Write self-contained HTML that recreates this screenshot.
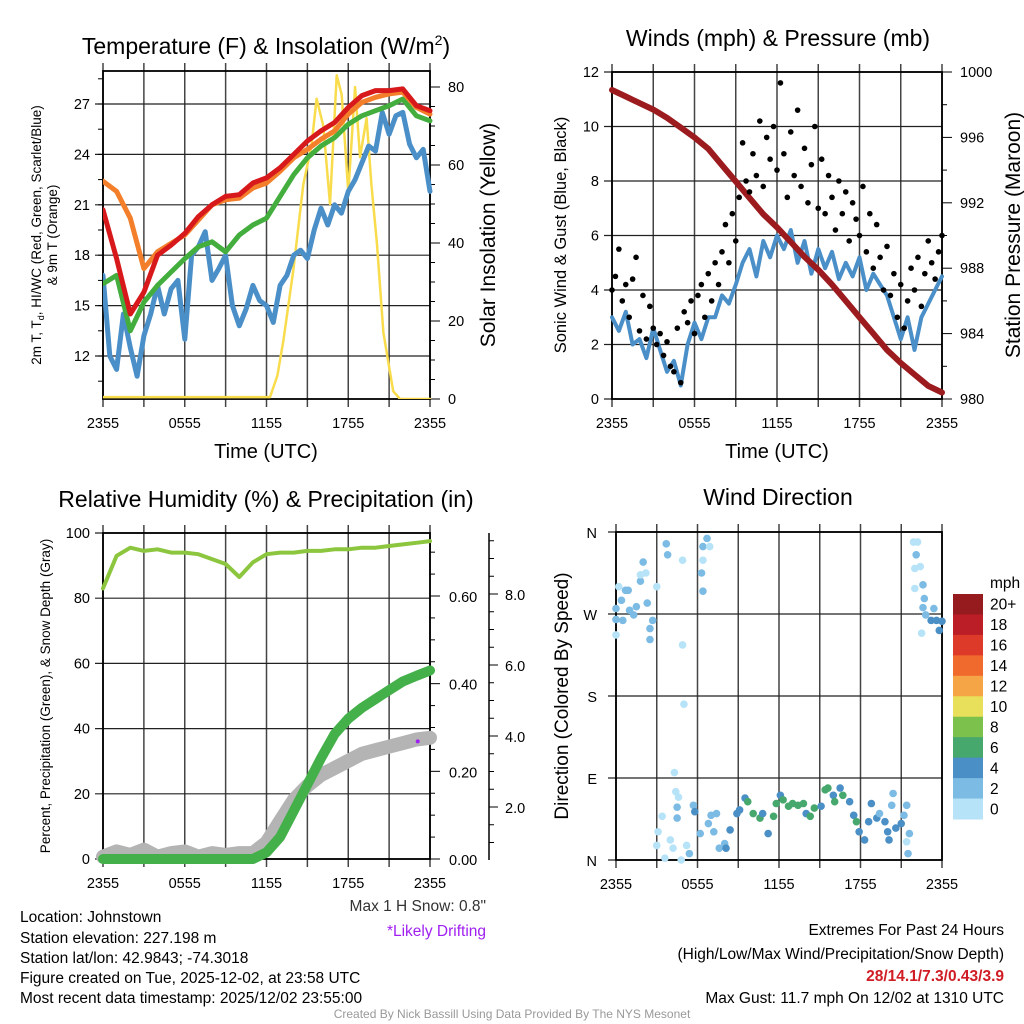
<!DOCTYPE html>
<html><head><meta charset="utf-8">
<style>
html,body{margin:0;padding:0;background:#fff;}
svg{display:block;font-family:"Liberation Sans",Arial,sans-serif;}
</style></head>
<body>
<svg id="chart" width="1024" height="1024" viewBox="0 0 1024 1024" xmlns="http://www.w3.org/2000/svg">
<rect width="1024" height="1024" fill="#fff"/>
<g id="layer"></g>
<text x="266" y="54" font-size="23" text-anchor="middle">Temperature (F) &amp; Insolation (W/m<tspan font-size="14" dy="-9">2</tspan><tspan dy="9">)</tspan></text>
<text x="778" y="46" font-size="23" text-anchor="middle">Winds (mph) &amp; Pressure (mb)</text>
<text x="266" y="507" font-size="23" text-anchor="middle">Relative Humidity (%) &amp; Precipitation (in)</text>
<text x="778" y="505" font-size="23" text-anchor="middle">Wind Direction</text>
<text transform="translate(41,235) rotate(-90)" font-size="13.5" text-anchor="middle">2m T, T<tspan font-size="9" dy="3">d</tspan><tspan dy="-3">, HI/WC (Red, Green, Scarlet/Blue)</tspan></text>
<text transform="translate(57,235) rotate(-90)" font-size="13.5" text-anchor="middle">&amp; 9m T (Orange)</text>
<text transform="translate(495,235) rotate(-90)" font-size="21" text-anchor="middle">Solar Insolation (Yellow)</text>
<text transform="translate(566,235) rotate(-90)" font-size="16.5" text-anchor="middle">Sonic Wind &amp; Gust (Blue, Black)</text>
<text transform="translate(1020,235) rotate(-90)" font-size="21" text-anchor="middle">Station Pressure (Maroon)</text>
<text transform="translate(50,696) rotate(-90)" font-size="13.5" text-anchor="middle">Percent, Precipitation (Green), &amp; Snow Depth (Gray)</text>
<text transform="translate(568,696) rotate(-90)" font-size="19" text-anchor="middle">Direction (Colored By Speed)</text>
<text x="266" y="458" font-size="20" text-anchor="middle">Time (UTC)</text>
<text x="777" y="458" font-size="20" text-anchor="middle">Time (UTC)</text>
<text x="486" y="911" font-size="15.5" fill="#333" text-anchor="end">Max 1 H Snow: 0.8"</text>
<text x="486" y="936" font-size="15.5" fill="#a020f0" text-anchor="end">*Likely Drifting</text>
<g font-size="15.5">
<text x="20" y="922">Location: Johnstown</text>
<text x="20" y="943">Station elevation: 227.198 m</text>
<text x="20" y="963">Station lat/lon: 42.9843; -74.3018</text>
<text x="20" y="983">Figure created on Tue, 2025-12-02, at 23:58 UTC</text>
<text x="20" y="1003">Most recent data timestamp: 2025/12/02 23:55:00</text>
</g>
<g font-size="15.5" text-anchor="end">
<text x="1004" y="935">Extremes For Past 24 Hours</text>
<text x="1004" y="959">(High/Low/Max Wind/Precipitation/Snow Depth)</text>
<text x="1004" y="981" fill="#d01c24" font-weight="bold">28/14.1/7.3/0.43/3.9</text>
<text x="1004" y="1003">Max Gust: 11.7 mph On 12/02 at 1310 UTC</text>
</g>
<text x="512" y="1018" font-size="12" fill="#999" text-anchor="middle">Created By Nick Bassill Using Data Provided By The NYS Mesonet</text>
</svg>
<script>
// ---------- DATA ----------
const hourly = [0,1,2,3,4,5,6,7,8,9,10,11,12,13,14,15,16,17,18,19,20,21,22,23,24];
const halfHourly = [0,0.5,1,1.5,2,2.5,3,3.5,4,4.5,5,5.5,6,6.5,7,7.5,8,8.5,9,9.5,10,10.5,11,11.5,12,12.5,13,13.5,14,14.5,15,15.5,16,16.5,17,17.5,18,18.5,19,19.5,20,20.5,21,21.5,22,22.5,23,23.5,24];
const xTickLabels = ["2355","0555","1155","1755","2355"];
const xTickHours = [0,6,12,18,24];
const tempTicks = [12,15,18,21,24,27];
const solarTicks = [0,20,40,60,80];
const windTicks = [0,2,4,6,8,10,12];
const pressureTicks = [980,984,988,992,996,1000];
const pctTicks = [0,20,40,60,80,100];
const precipTicks = [0,0.2,0.4,0.6];
const precipTickLabels = ["0.00","0.20","0.40","0.60"];
const snowTicks = [2,4,6,8];
const snowTickLabels = ["2.0","4.0","6.0","8.0"];
const dirTicks = [0,90,180,270,360];
const dirTickLabels = ["N","E","S","W","N"];

const tempRed = [20.7,17.8,14.5,15.8,18,18.6,19.3,20.3,21,21.5,21.6,22.3,22.6,23.2,24,24.8,25.4,25.9,26.8,27.5,27.8,27.8,27.9,26.9,26.6];
const tempOrange = [22.4,21.8,20.2,17.2,18.2,18.7,19.2,20.1,21,21.3,21.4,22,22.3,23,23.8,24.3,24.9,25.4,26.4,27.1,27.4,27.6,27.7,26.8,26.4];
const tempGreen = [16.3,16.8,13.5,15.2,16.2,17,17.8,18.5,18.8,18.2,19.2,19.8,20.2,21.5,22.8,23.8,24.5,25,25.8,26.3,26.6,26.9,27.3,26.3,26];
const tempBlue = [16.8,12,11.2,14.5,12.5,10.8,13.2,14.5,16.2,14.5,16,16.5,13,18,18.5,19.4,16.5,17.2,18,15,13.8,14.8,16.2,15.3,15,14,16.2,16.8,18,18.3,17.8,19.5,20.8,19.8,21,20.5,21.8,22.5,23.5,24.5,24.2,26.5,25.2,26.3,26.5,24.6,23.8,24.3,21.8];
const solarHours = [0,12,12.26,12.8,13.24,13.97,14.7,15.3,15.68,16.17,16.66,17.15,17.52,18.0,18.5,18.86,19.35,19.7,20.1,20.58,21.3,21.8,24];
const solarValues = [0.5,0.5,0.5,6,15,33,55,65,77,70,50,83,78,53,80,62,72,55,40,17,2,0,0];

const windSpeed = [3,2.5,3.2,2,2.2,1.5,2.6,1.8,1,1.4,0.5,2,2.8,2.2,3,3,3.8,3.5,4.2,5,5.5,4.5,5.8,5.2,6,5.5,6.2,5,5.8,4.6,5.5,4.8,5.4,4.4,5,4.5,5.2,4,4.6,4.2,3.8,3,2.2,3,1.8,3,3.5,4,4.5];
const gustValues = [4,4.5,5.5,3.6,4.2,3.0,4.4,5.2, 2.5,3.8,2.2,3.4,2.6,2.0,2.4,1.6, 2.1,1.2,1.0,2.6,0.6,3.2,2.8,3.6, 2.4,3.8,4.2,3.0,4.6,3.6,5.0,4.2, 5.4,6.4,5.0,6.8,5.8,7.4,9.4,8.0, 7.6,9.0,8.2,10.2,7.8,9.6,8.8,10.0, 8.4,11.6,9.0,7.4,9.8,8.2,10.6,7.8, 9.2,7.2,8.6,10.0,7.0,8.8,6.8,8.2, 7.4,6.2,8.0,6.8,7.6,5.8,7.2,6.6, 6.0,7.8,5.4,6.8,4.8,6.4,5.2,4.0, 5.6,3.8,4.6,3.0,4.2,2.6,3.6,4.8, 4.0,5.2,3.4,4.6,5.8,5.0,4.4,5.4,6.0];
const pressure = [998.9,998.5,998.1,997.7,997.2,996.6,996,995.3,994.3,993.3,992.3,991.3,990.5,989.6,988.7,987.9,987,986,985,984,983,982.2,981.5,980.8,980.4];

const humidity = [83,93,95.5,94.5,95,94,94,93.5,92,90.5,86.5,91,93.5,94,94,94.5,94.5,95,95,95.5,95.5,96,96.5,97,97.5];
const precip = [0,0,0,0,0,0,0,0,0,0,0,0,0.015,0.05,0.11,0.17,0.23,0.285,0.32,0.345,0.365,0.385,0.405,0.418,0.43];
const snowDepth = [0.6,0.75,0.65,0.8,0.6,0.7,0.75,0.6,0.7,0.65,0.7,0.7,1.0,1.6,2.2,2.6,2.9,3.1,3.3,3.5,3.6,3.7,3.8,3.9,3.95];

const dirHours = [0,0,0,0.2,0.4,0.5,0.7,0.9,1,1.3,1.5,1.8,1.8,2,2.2,2.3,2.5,2.5,2.7,3,3.7,3.8,4.9,4.9,5,4.3,4.4,4.6,4.5,4.5,3.1,3,3.6,3.4,4,4.2,4.8,5.2,5.4,5.7,5.8,6.2,6.4,6.3,6.4,6.7,6.9,6.4,6.8,7,7.4,7.2,7.6,8,8.1,8.4,8.9,9.1,9.5,9.7,10.1,10.6,10.8,11.2,11.6,11.8,12.1,12.3,12.7,13,13.4,13.8,14,14.3,14.6,15.1,15.4,15.6,16,16.1,16.5,16.7,17.2,17.5,17.7,17.9,18.3,18.6,18.8,19.2,19.4,19.8,20,20.1,20.3,20.4,20.6,21,21.2,21.4,21.5,21.6,21.4,21.9,22.2,22.1,22,22.4,22,22.6,22.7,22.6,22.8,22.5,23.2,23.4,23.6,23.8,24];
const dirDegrees = [276,264,247,300,285,263,296,296,274,269,278,306,313,327,315,282,254,242,263,300,347,335,329,236,171,96,75,69,58,46,31,16,2,48,22,13,0,16,7,60,53,29,344,315,295,353,344,329,40,49,51,31,13,18,13,33,51,55,68,64,51,46,51,29,48,62,71,66,59,62,60,62,51,48,57,59,77,79,71,64,79,71,64,49,42,31,22,42,62,46,51,42,31,22,60,73,35,40,49,60,7,29,20,349,349,335,320,322,298,302,287,277,269,249,263,276,263,252,262];
const dirSpeed = [3,3,1,1,3,3,3,3,3,3,3,3,1,3,1,3,3,3,3,1,3,3,1,1,1,1,1,1,3,3,1,1,1,1,1,1,1,1,3,3,5,3,3,3,3,3,1,1,3,3,3,3,3,3,5,5,5,5,5,7,7,7,5,5,7,7,5,7,7,7,7,7,5,7,7,5,7,7,5,7,5,7,5,5,7,5,5,5,5,5,3,5,5,5,3,3,5,5,3,3,3,3,1,1,1,3,1,1,1,3,3,3,3,1,5,3,5,5,5];
const speedBins = ["20+","18","16","14","12","10","8","6","4","2","0"];
const speedColors = ["#951b1e","#bb1e26","#de3a2a","#f06a2e","#f6a546","#e8e05a","#7bc14b","#47a86e","#4a8fc5","#7cbbe4","#b6e3f7"];

// ---------- HELPERS ----------
const NS = "http://www.w3.org/2000/svg";
const layer = document.getElementById('layer');
function mk(tag, attrs, parent){
  const e = document.createElementNS(NS, tag);
  for (const k in attrs) e.setAttribute(k, attrs[k]);
  (parent||layer).appendChild(e);
  return e;
}
function linScale(d0,d1,r0,r1){ return v => r0 + (v-d0)*(r1-r0)/(d1-d0); }
function pathD(xs, ys, xf, yf){ return xs.map((x,i)=>(i?'L':'M')+xf(x).toFixed(1)+','+yf(ys[i]).toFixed(1)).join(''); }
function txt(x,y,s,size,anchor,parent,fill){
  const t = mk('text',{x:x,y:y,'font-size':size,'text-anchor':anchor||'middle',fill:fill||'#000'},parent);
  t.textContent = s; return t;
}
function frame(g,L,T,R,B,xs,yTickPx){
  for (let h=0; h<=24; h+=3){
    const x = xs(h);
    const gl = mk('line',{x1:x,y1:T-8,x2:x,y2:B+8,stroke:'#444','stroke-width':1.5},g);
    
    
  }
  yTickPx.forEach(y=>{
    const hl = mk('line',{x1:L-8,y1:y,x2:R,y2:y,stroke:'#222','stroke-width':1.2},g);
    
    
  });
  const fr = mk('rect',{x:L,y:T,width:R-L,height:B-T,fill:'none',stroke:'#000','stroke-width':1.8},g);
  
  
  xTickHours.forEach((h,i)=>{
    const t = txt(xs(h),B+29,xTickLabels[i],14.5,'middle',g);
    
    
  });
}

// ---------- PANEL 1: TEMPERATURE ----------
(function(){
  const g = mk('g',{});
  
  
  const L=103,R=430,T=71,B=399;
  const xs = linScale(0,24,L,R);
  const yT = linScale(27,12,104,356);
  const yS = linScale(0,80,399,87);
  frame(g,L,T,R,B,xs,tempTicks.map(yT));
  tempTicks.forEach(v=>{ const t=txt(L-13,yT(v)+5,String(v),14.5,'end',g);   });
  for(let v=10.5; v<29; v+=1.5){ mk('line',{x1:L-5,y1:yT(v),x2:L,y2:yT(v),stroke:'#000'},g); }
  for(let v=0; v<=85; v+=5){ const y=yS(v); if(y<T) break; mk('line',{x1:R,y1:y,x2:R+(v%20==0?10:5),y2:y,stroke:'#000'},g); }
  solarTicks.forEach(v=>{ const t=txt(R+18,yS(v)+5,String(v),14.5,'start',g);   });
  const clip = mk('clipPath',{id:'c1'},g); mk('rect',{x:L,y:T-14,width:R-L+4,height:B-T+14},clip);
  const pg = mk('g',{'clip-path':'url(#c1)','stroke-linejoin':'round','stroke-linecap':'round',fill:'none'},g);
  let p;
  p = mk('path',{d:pathD(solarHours,solarValues,xs,yS),stroke:'#f9dc4c','stroke-width':2.5},pg);
   
  p = mk('path',{d:pathD(halfHourly,tempBlue,xs,yT),stroke:'#4a8fc8','stroke-width':5},pg);
   
  p = mk('path',{d:pathD(hourly,tempGreen,xs,yT),stroke:'#43ae3e','stroke-width':5},pg);
   
  p = mk('path',{d:pathD(hourly,tempOrange,xs,yT),stroke:'#f47f2b','stroke-width':5},pg);
   
  p = mk('path',{d:pathD(hourly,tempRed,xs,yT),stroke:'#d7191c','stroke-width':5},pg);
   
})();

// ---------- PANEL 2: WINDS ----------
(function(){
  const g = mk('g',{});
  
  
  const L=612,R=942,T=72,B=399;
  const xs = linScale(0,24,L,R);
  const yW = linScale(0,12,B,T);
  const yP = linScale(980,1000,B,T);
  frame(g,L,T,R,B,xs,windTicks.map(yW));
  windTicks.forEach(v=>{ const t=txt(L-13,yW(v)+5,String(v),14.5,'end',g);   });
  for(let v=980; v<=1000; v+=2){ mk('line',{x1:R,y1:yP(v),x2:R+(v%4==0?10:5),y2:yP(v),stroke:'#000'},g); }
  pressureTicks.forEach(v=>{ const t=txt(R+18,yP(v)+5,String(v),14.5,'start',g);   });
  const pg = mk('g',{'stroke-linejoin':'round','stroke-linecap':'round',fill:'none'},g);
  let p = mk('path',{d:pathD(halfHourly,windSpeed,xs,yW),stroke:'#4a8fc8','stroke-width':4},pg);
   
  p = mk('path',{d:pathD(hourly,pressure,xs,yP),stroke:'#9b1b1e','stroke-width':6},pg);
   
  gustValues.forEach((v,i)=>{
    const c = mk('circle',{cx:xs(i*0.25),cy:yW(v),r:2.8,fill:'#000'},g);
    
    
  });
})();

// ---------- PANEL 3: HUMIDITY ----------
(function(){
  const g = mk('g',{});
  
  
  const L=103,R=430,T=533,B=859;
  const xs = linScale(0,24,L,R);
  const yH = linScale(0,100,B,T);
  const yPr = linScale(0,0.6,859,596);
  const ySn = linScale(2,8,807,594);
  frame(g,L,T,R,B,xs,pctTicks.map(yH));
  pctTicks.forEach(v=>{ const t=txt(L-13,yH(v)+5,String(v),14.5,'end',g);   });
  for(let v=0; v<=0.75; v+=0.05){ const y=yPr(v); if(y<T) break; mk('line',{x1:R,y1:y,x2:R+(Math.round(v*100)%20==0?10:5),y2:y,stroke:'#000'},g); }
  precipTicks.forEach((v,i)=>{ const t=txt(R+19,yPr(v)+6,precipTickLabels[i],14.5,'start',g);   });
  const ax = mk('line',{x1:489,y1:533,x2:489,y2:860,stroke:'#000','stroke-width':1.5},g);
   
  for(let v=0.5; v<=9.5; v+=0.5){ const y=ySn(v); if(y<535||y>859) continue; mk('line',{x1:489,y1:y,x2:489+(v%2==0?9:5),y2:y,stroke:'#000'},g); }
  snowTicks.forEach((v,i)=>{ const t=txt(505,ySn(v)+6,snowTickLabels[i],14.5,'start',g);   });
  const pg = mk('g',{'stroke-linejoin':'round','stroke-linecap':'round',fill:'none'},g);
  let p = mk('path',{d:pathD(hourly,snowDepth,xs,ySn),stroke:'#b4b4b4','stroke-width':14},pg);
   
  p = mk('path',{d:pathD(hourly,precip,xs,yPr),stroke:'#44b04a','stroke-width':10},pg);
   
  p = mk('path',{d:pathD(hourly,humidity,xs,yH),stroke:'#8cc63f','stroke-width':4},pg);
   
  const d = mk('circle',{cx:xs(23.1),cy:ySn(3.85),r:2,fill:'#a020f0'},g);
   
})();

// ---------- PANEL 4: WIND DIRECTION ----------
(function(){
  const g = mk('g',{});
  
  
  const L=616,R=942,T=532,B=860;
  const xs = linScale(0,24,L,R);
  const yD = linScale(0,360,B,T);
  frame(g,L,T,R,B,xs,dirTicks.map(yD));
  dirTicks.forEach((v,i)=>{ const t=txt(L-19,yD(v)+6,dirTickLabels[i],14.5,'end',g);   });
  function colorFor(s){ const bin = Math.min(10, Math.floor(s/2)); return speedColors[10-bin]; }
  dirHours.forEach((h,i)=>{
    const c = mk('circle',{cx:xs(h),cy:yD(dirDegrees[i]),r:3.8,fill:colorFor(dirSpeed[i])},g);
    
    
  });
  const cb = mk('g',{},g);
  
  
  const h = (819-594)/11;
  speedColors.forEach((col,i)=>{
    mk('rect',{x:953,y:594+i*h,width:30,height:h+0.5,fill:col},cb);
    const t = txt(990,594+i*h+h/2+5.5,speedBins[i],15.5,'start',cb);
    
    
  });
  const u = txt(990,588,'mph',15.5,'start',cb);
  
  
})();
</script>
</body></html>
